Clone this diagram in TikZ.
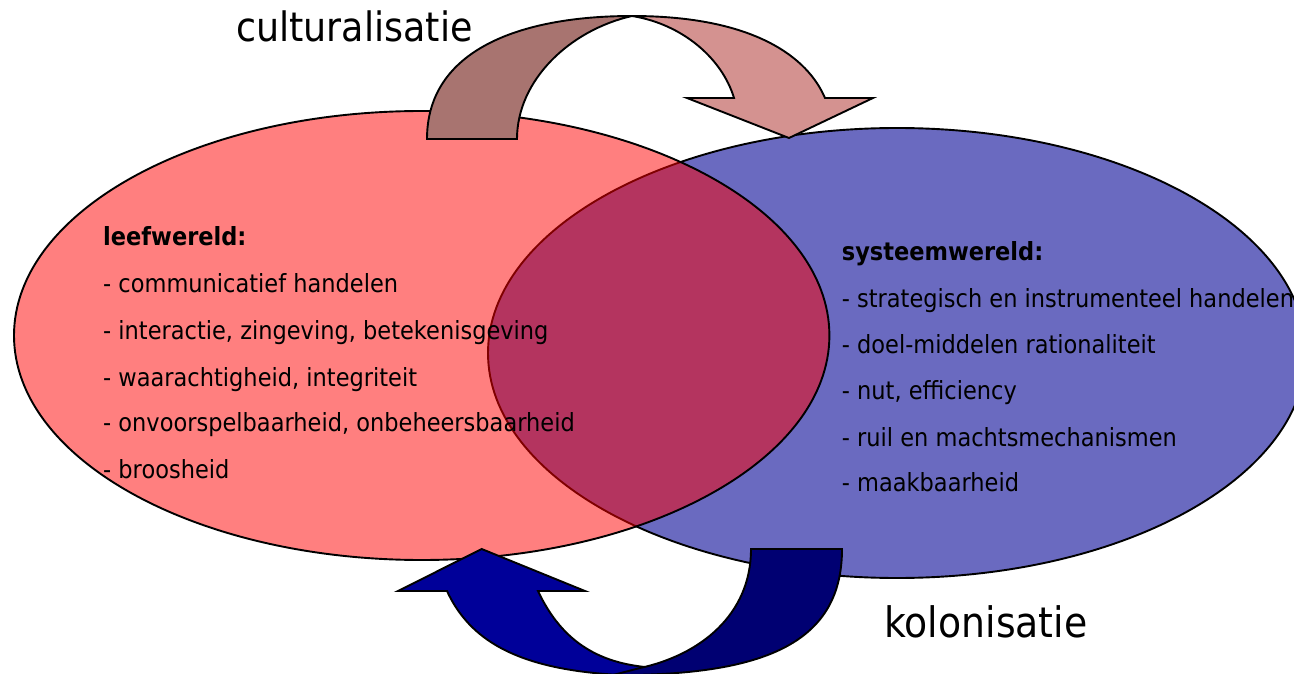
\documentclass[tikz,border=0pt]{standalone}
\usepackage{fontspec}
\setmainfont{DejaVu Sans}[FakeStretch=0.9]
\definecolor{sysblue}{RGB}{106,106,192}
\definecolor{cultdark}{RGB}{168,116,112}
\definecolor{cultlight}{RGB}{212,146,144}
\definecolor{kolnavy}{RGB}{0,0,114}
\definecolor{kolblue}{RGB}{0,0,153}
\tikzset{
  outline/.style={draw=black, line width=1.9pt, line join=miter},
  item/.style={anchor=base west, inner sep=0pt, font=\fontsize{25}{30}\selectfont},
  head/.style={anchor=base west, inner sep=0pt, font=\fontsize{25}{30}\selectfont\bfseries},
  big/.style={anchor=base west, inner sep=0pt, font=\fontsize{40.5}{48}\selectfont}
}
\begin{document}
\begin{tikzpicture}[x=1pt,y=-1pt]
\useasboundingbox (0,0) rectangle (1294,674);
% ellipses
\path[outline, fill=sysblue] (897,353) ellipse [x radius=409, y radius=225];
\path[outline, fill=red, fill opacity=0.5] (421.7,335.5) ellipse [x radius=407.7, y radius=224.5];
% left text
\node[head] (lw) at (103,245.7) {leefwereld:};
\node[item] (l1) at (103,292.7) {- communicatief handelen};
\node[item] (l2) at (103,339.3) {- interactie, zingeving, betekenisgeving};
\node[item] (l3) at (103,386) {- waarachtigheid, integriteit};
\node[item] (l4) at (103,431.7) {- onvoorspelbaarheid, onbeheersbaarheid};
\node[item] (l5) at (103,478.3) {- broosheid};
% right text
\node[head] (sw) at (841.7,260.7) {systeemwereld:};
\node[item] (s1) at (841.7,307.3) {- strategisch en instrumenteel handelen};
\node[item] (s2) at (841.7,353.3) {- doel-middelen rationaliteit};
\node[item] (s3) at (841.7,399.3) {- nut, efficiency};
\node[item] (s4) at (841.7,446) {- ruil en machtsmechanismen};
\node[item] (s5) at (841.7,491.7) {- maakbaarheid};
% top arrow (culturalisatie)
\path[outline, fill=cultlight] (632,16) .. controls (755,16) and (808,58) .. (825,98)
  -- (873,98) -- (789,138) -- (687,98) -- (734,98)
  .. controls (722,58) and (682,24) .. (632,16) -- cycle;
\path[outline, fill=cultdark] (427,139) .. controls (427,50) and (520,16) .. (632,16)
  .. controls (570,30) and (517,80) .. (517,139) -- cycle;
% bottom arrow (kolonisatie)
\path[outline, fill=kolblue] (447,591) -- (398,591) -- (481.7,549) -- (585,591) -- (538,591)
  .. controls (562,642) and (600,666) .. (660,668) -- (660,676)
  .. controls (540,676) and (475,652) .. (447,591) -- cycle;
\path[outline, fill=kolnavy] (751,549) -- (842,549) .. controls (842,640) and (770,676) .. (613,675)
  -- (640,668) .. controls (700,655) and (751,615) .. (751,549) -- cycle;
% labels
\node[big] (cult) at (236,42) {culturalisatie};
\node[big, font=\fontsize{42}{48}\selectfont] (kol) at (884,637) {kolonisatie};
\end{tikzpicture}
\end{document}
